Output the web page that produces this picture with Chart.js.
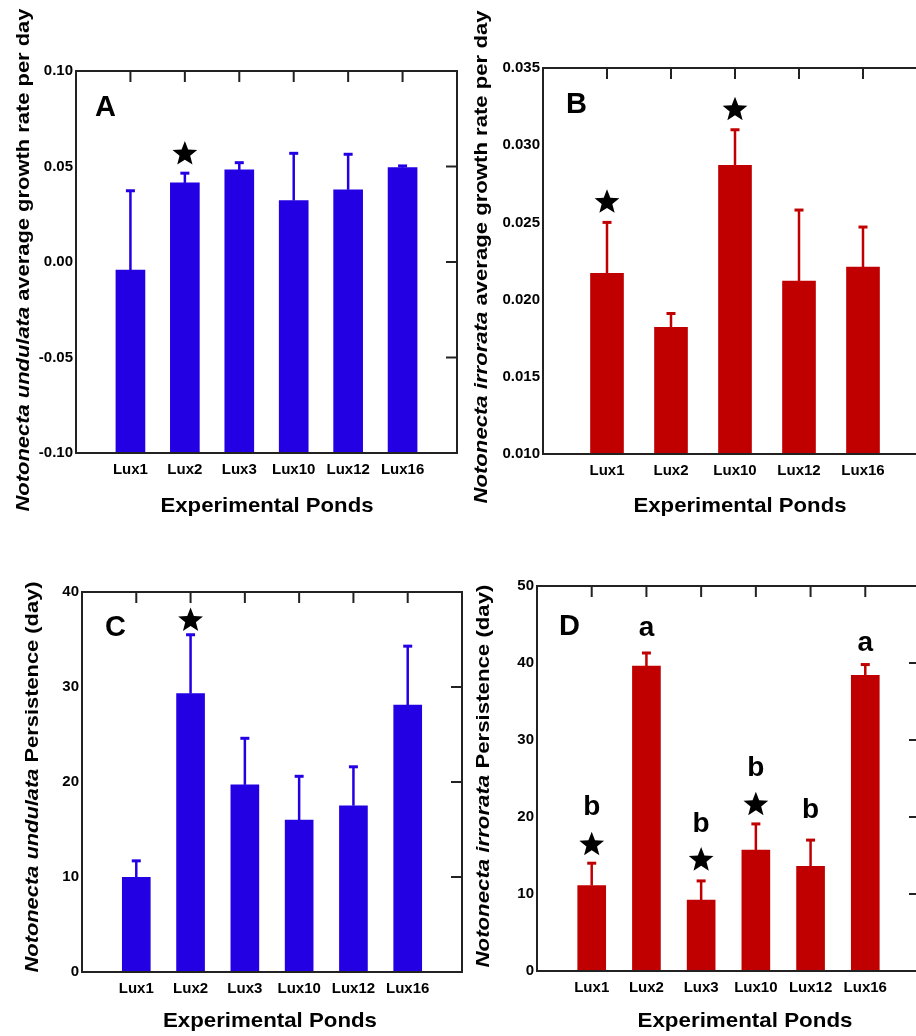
<!DOCTYPE html>
<html>
<head>
<meta charset="utf-8">
<script src="https://cdn.jsdelivr.net/npm/chart.js@4.4.1/dist/chart.umd.min.js"></script>
<style>
  html, body { margin: 0; padding: 0; background: #fff; width: 916px; height: 1036px; overflow: hidden; }
  canvas { position: absolute; left: 0; top: 0; }
</style>
</head>
<body>
<canvas id="chartA" width="940" height="1036"></canvas>
<canvas id="chartB" width="940" height="1036"></canvas>
<canvas id="chartC" width="940" height="1036"></canvas>
<canvas id="chartD" width="940" height="1036"></canvas>
<script>
// ponds on the x axis
const pondsA = ['Lux1', 'Lux2', 'Lux3', 'Lux10', 'Lux12', 'Lux16'];
const pondsB = ['Lux1', 'Lux2', 'Lux10', 'Lux12', 'Lux16'];
const pondsC = ['Lux1', 'Lux2', 'Lux3', 'Lux10', 'Lux12', 'Lux16'];
const pondsD = ['Lux1', 'Lux2', 'Lux3', 'Lux10', 'Lux12', 'Lux16'];

// means and upper end of error bars
const growthA = [-0.0042, 0.0414, 0.0482, 0.0322, 0.0378, 0.0494];
const growthAUpper = [0.0373, 0.0465, 0.0520, 0.0569, 0.0564, 0.0503];
const growthB = [0.0217, 0.0182, 0.0287, 0.0212, 0.0221];
const growthBUpper = [0.0250, 0.0191, 0.0310, 0.0258, 0.0247];
const persistC = [9.96, 29.3, 19.7, 16.0, 17.5, 28.1];
const persistCUpper = [11.7, 35.5, 24.6, 20.6, 21.6, 34.3];
const persistD = [11.1, 39.6, 9.2, 15.7, 13.6, 38.4];
const persistDUpper = [14.0, 41.3, 11.7, 19.1, 17.0, 39.8];

// significance stars and group letters (value-axis position)
const starsA = [null, 0.0565, null, null, null, null];
const starsB = [0.0263, null, 0.0323, null, null];
const starsC = [null, 37.0, null, null, null, null];
const starsD = [16.4, null, 14.4, 21.6, null, null];
const lettersD = ['b', 'a', 'b', 'b', 'b', 'a'];
const letterPosD = [21.3, 44.5, 19.0, 26.3, 20.9, 42.5];

const BLUE = '#2300E4';
const RED = '#C00000';
const FONT = "'Liberation Sans', Arial, sans-serif";
Chart.defaults.font.family = FONT;

function drawStar(ctx, cx, cy, R, r) {
  ctx.beginPath();
  for (let k = 0; k < 10; k++) {
    const a = -Math.PI / 2 + k * Math.PI / 5;
    const rad = k % 2 === 0 ? R : r;
    const px = cx + rad * Math.cos(a), py = cy + rad * Math.sin(a);
    if (k === 0) ctx.moveTo(px, py); else ctx.lineTo(px, py);
  }
  ctx.closePath();
  ctx.fillStyle = '#000';
  ctx.fill();
}

// draw mixed italic/bold text, fitted to a length, optionally rotated
function drawFitted(ctx, parts, cx, cy, size, target, rotate) {
  ctx.save();
  let total = 0;
  const widths = parts.map(p => {
    ctx.font = (p.italic ? 'italic ' : '') + 'bold ' + size + 'px ' + FONT;
    const w = ctx.measureText(p.t).width;
    total += w;
    return w;
  });
  ctx.translate(cx, cy);
  if (rotate) ctx.rotate(-Math.PI / 2);
  ctx.scale(target / total, 1);
  ctx.fillStyle = '#000';
  ctx.textBaseline = 'middle';
  ctx.textAlign = 'left';
  let x = -total / 2;
  parts.forEach((p, i) => {
    ctx.font = (p.italic ? 'italic ' : '') + 'bold ' + size + 'px ' + FONT;
    ctx.fillText(p.t, x, 0);
    x += widths[i];
  });
  ctx.restore();
}

function makeDecor(cfg) {
  return {
    id: 'decor',
    afterDatasetsDraw(chart) {
      const ctx = chart.ctx;
      const xs = chart.scales.x, ys = chart.scales.y;
      const area = chart.chartArea;
      ctx.save();
      // error bars
      ctx.strokeStyle = cfg.color;
      cfg.values.forEach((v, i) => {
        const x = xs.getPixelForValue(i + 1);
        const y0 = ys.getPixelForValue(v);
        const y1 = ys.getPixelForValue(cfg.upper[i]);
        ctx.lineWidth = 2.5;
        ctx.beginPath();
        ctx.moveTo(x, y0);
        ctx.lineTo(x, y1);
        ctx.stroke();
        ctx.lineWidth = 3;
        ctx.beginPath();
        ctx.moveTo(x - 4.5, y1);
        ctx.lineTo(x + 4.5, y1);
        ctx.stroke();
      });
      // stars
      cfg.stars.forEach((s, i) => {
        if (s === null) return;
        drawStar(ctx, xs.getPixelForValue(i + 1), ys.getPixelForValue(s), 13, 5.6);
      });
      // group letters
      if (cfg.letters) {
        ctx.fillStyle = '#000';
        ctx.font = 'bold 28px ' + FONT;
        ctx.textAlign = 'center';
        ctx.textBaseline = 'middle';
        cfg.letters.forEach((t, i) => {
          ctx.fillText(t, xs.getPixelForValue(i + 1), ys.getPixelForValue(cfg.letterPos[i]));
        });
      }
      // frame with inward ticks on top and right
      ctx.strokeStyle = '#222';
      ctx.lineWidth = 2;
      ctx.strokeRect(area.left, area.top, area.right - area.left, area.bottom - area.top);
      ctx.beginPath();
      cfg.ponds.forEach((p, i) => {
        const x = xs.getPixelForValue(i + 1);
        ctx.moveTo(x, area.top);
        ctx.lineTo(x, area.top + 11);
      });
      ys.ticks.forEach(t => {
        if (t.value <= ys.min + 1e-9 || t.value >= ys.max - 1e-9) return;
        const y = ys.getPixelForValue(t.value);
        ctx.moveTo(area.right - 11, y);
        ctx.lineTo(area.right, y);
      });
      ctx.stroke();
      // panel letter
      ctx.fillStyle = '#000';
      ctx.font = 'bold 29px ' + FONT;
      ctx.textAlign = 'left';
      ctx.textBaseline = 'middle';
      ctx.fillText(cfg.panel, cfg.panelPos[0], cfg.panelPos[1]);
      // axis titles
      drawFitted(ctx, cfg.yTitle, cfg.yTitlePos[0], cfg.yTitlePos[1], 19, cfg.yTitlePos[2], true);
      drawFitted(ctx, [{ t: 'Experimental Ponds' }], cfg.xTitlePos[0], cfg.xTitlePos[1], 21, cfg.xTitlePos[2], false);
      ctx.restore();
    }
  };
}

function makePanel(id, cfg) {
  const labels = ['', ...cfg.ponds, ''];
  const data = [null, ...cfg.values, null];
  new Chart(document.getElementById(id), {
    type: 'bar',
    data: {
      labels: labels,
      datasets: [{
        data: data,
        base: cfg.min,
        backgroundColor: cfg.color,
        borderWidth: 0,
        barThickness: cfg.barWidth
      }]
    },
    options: {
      responsive: false,
      animation: false,
      events: [],
      layout: { padding: cfg.padding },
      plugins: { legend: { display: false }, tooltip: { enabled: false } },
      scales: {
        x: {
          offset: false,
          grid: { display: false, drawTicks: false },
          border: { display: false },
          ticks: {
            autoSkip: false, maxRotation: 0, padding: 8, color: '#000',
            font: { size: 15, weight: 'bold' }
          },
          afterFit: s => { s.height = 40; }
        },
        y: {
          min: cfg.min,
          max: cfg.max,
          grid: { display: false, drawTicks: false },
          border: { display: false },
          ticks: {
            stepSize: cfg.step, padding: 3, color: '#000',
            font: { size: 15, weight: 'bold' },
            callback: v => cfg.fmt(v)
          },
          afterFit: s => { s.width = 50; }
        }
      }
    },
    plugins: [makeDecor(cfg)]
  });
}

const fmtFixed = d => v => (Math.abs(v) < 1e-9 ? 0 : v).toFixed(d);

makePanel('chartA', {
  ponds: pondsA, values: growthA, upper: growthAUpper, stars: starsA,
  color: BLUE, min: -0.1, max: 0.1, step: 0.05, fmt: fmtFixed(2), barWidth: 29,
  padding: { left: 26, right: 483, top: 71, bottom: 543 },
  panel: 'A', panelPos: [95, 108],
  yTitle: [{ t: 'Notonecta undulata', italic: true }, { t: ' average growth rate per day' }],
  yTitlePos: [24, 260, 503], xTitlePos: [267, 506, 213]
});
makePanel('chartB', {
  ponds: pondsB, values: growthB, upper: growthBUpper, stars: starsB,
  color: RED, min: 0.01, max: 0.035, step: 0.005, fmt: fmtFixed(3), barWidth: 33,
  padding: { left: 493, right: 13, top: 68, bottom: 542 },
  panel: 'B', panelPos: [566, 105],
  yTitle: [{ t: 'Notonecta irrorata', italic: true }, { t: ' average growth rate per day' }],
  yTitlePos: [482, 257, 493], xTitlePos: [740, 506, 213]
});
makePanel('chartC', {
  ponds: pondsC, values: persistC, upper: persistCUpper, stars: starsC,
  color: BLUE, min: 0, max: 40, step: 10, fmt: v => String(v), barWidth: 28,
  padding: { left: 32, right: 478, top: 592, bottom: 24 },
  panel: 'C', panelPos: [105, 628],
  yTitle: [{ t: 'Notonecta undulata', italic: true }, { t: ' Persistence (day)' }],
  yTitlePos: [33, 777, 391], xTitlePos: [270, 1021, 214]
});
makePanel('chartD', {
  ponds: pondsD, values: persistD, upper: persistDUpper, stars: starsD,
  letters: lettersD, letterPos: letterPosD,
  color: RED, min: 0, max: 50, step: 10, fmt: v => String(v), barWidth: 28,
  padding: { left: 487, right: 20, top: 586, bottom: 25 },
  panel: 'D', panelPos: [559, 627],
  yTitle: [{ t: 'Notonecta irrorata', italic: true }, { t: ' Persistence (day)' }],
  yTitlePos: [484, 776, 383], xTitlePos: [745, 1021, 215]
});
</script>
</body>
</html>
